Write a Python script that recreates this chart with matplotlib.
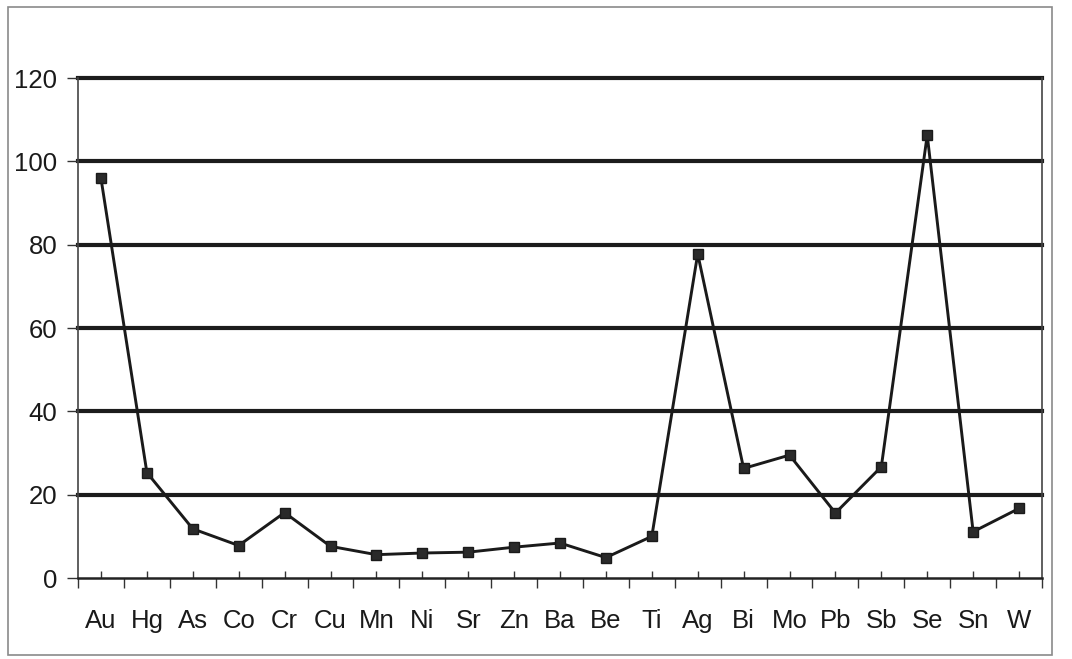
import matplotlib.pyplot as plt
from matplotlib.patches import Rectangle
from matplotlib.ticker import MultipleLocator

elements = ['Au', 'Hg', 'As', 'Co', 'Cr', 'Cu', 'Mn', 'Ni', 'Sr', 'Zn', 'Ba',
            'Be', 'Ti', 'Ag', 'Bi', 'Mo', 'Pb', 'Sb', 'Se', 'Sn', 'W']
values = [95.9, 25.3, 11.8, 7.8, 15.7, 7.6, 5.6, 6.0, 6.2, 7.4, 8.4,
          4.9, 10.0, 77.8, 26.3, 29.5, 15.6, 26.7, 106.3, 11.1, 16.7]
y_ticks = [0, 20, 40, 60, 80, 100, 120]

plt.rcParams['font.family'] = ['Liberation Sans', 'DejaVu Sans']

fig = plt.figure(figsize=(10.72, 6.59), dpi=100)
ax = fig.add_axes([0.0728, 0.1229, 0.8992, 0.7587])

x = list(range(len(elements)))
for yv in y_ticks[1:]:
    ax.axhline(yv, color='#1c1c1c', linewidth=3.0, zorder=1, clip_on=False)
ax.plot(x, values, color='#1a1a1a', linewidth=2.1, marker='s', markersize=7.5,
        markerfacecolor='#2a2a2a', markeredgecolor='#1a1a1a', zorder=3)

ax.set_xlim(-0.5, len(elements) - 0.5)
ax.set_ylim(0, 120)
ax.set_yticks(y_ticks)
ax.set_xticks(x)
ax.set_xticklabels(elements)
ax.xaxis.set_minor_locator(MultipleLocator(1, offset=0.5))

ax.tick_params(axis='y', direction='out', length=8, width=1, pad=7,
               labelsize=18.5, color='#333333', labelcolor='#1a1a1a')
ax.tick_params(axis='x', which='major', direction='in', length=5, width=1,
               pad=22, labelsize=18.5, color='#333333', labelcolor='#1a1a1a')
ax.tick_params(axis='x', which='minor', direction='out', length=7, width=1,
               color='#333333')

ax.spines['top'].set_visible(False)
ax.spines['left'].set_color('#444444')
ax.spines['left'].set_linewidth(1.2)
ax.spines['right'].set_color('#444444')
ax.spines['right'].set_linewidth(1.2)
ax.spines['bottom'].set_color('#222222')
ax.spines['bottom'].set_linewidth(1.8)

# outer chart frame
fig.patches.append(Rectangle((8 / 1072, 4 / 659), 1044 / 1072, 648 / 659,
                             transform=fig.transFigure, fill=False,
                             edgecolor='#8a8a8a', linewidth=1.2))

fig.savefig('out.png', dpi=100)
plt.close(fig)
